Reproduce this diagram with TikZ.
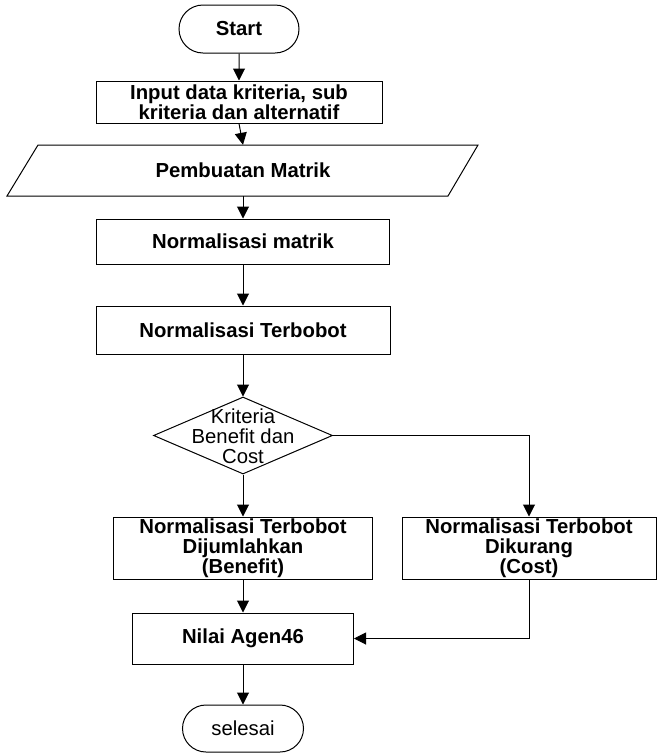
\documentclass[tikz,border=0pt]{standalone}
\usepackage{fontspec}
\setmainfont{Liberation Sans}
\usetikzlibrary{shapes.geometric,shapes.misc,arrows.meta}
\tikzset{
  boxfont/.style={font=\fontsize{20.3pt}{20pt}\selectfont\bfseries},
  plainfont/.style={font=\fontsize{20.3pt}{20pt}\selectfont},
  box/.style={draw, line width=1pt, rectangle, inner sep=0pt, align=center, boxfont},
  term/.style={draw, line width=1pt, rounded rectangle, inner sep=0pt, align=center, plainfont},
  decision/.style={draw, line width=1pt, diamond, inner sep=0pt, minimum width=179pt, minimum height=77pt},
  arr/.style={line width=1pt, -{Triangle[length=12pt,width=12pt]}},
  edge/.style={line width=1pt},
}
\begin{document}
\begin{tikzpicture}[x=1pt,y=-1pt]
\useasboundingbox (0,0) rectangle (657,753);
\node[term, minimum width=120pt, minimum height=48pt, font=\fontsize{20.3pt}{20pt}\selectfont\bfseries] (start) at (239,29) {Start};
\node[box, minimum width=286pt, minimum height=42pt] (input) at (239,102) {Input data kriteria, sub\\kriteria dan alternatif};
\node[inner sep=0pt, minimum width=410pt, minimum height=51pt, boxfont] (para) at (243,170.5) {Pembuatan Matrik};
\draw[edge] (38,145) -- (478,145) -- (448,196) -- (7,196) -- cycle;
\node[box, minimum width=293pt, minimum height=45pt] (matrik) at (243,241.5) {Normalisasi matrik};
\node[box, minimum width=294pt, minimum height=48pt] (terbobot) at (243,330) {Normalisasi Terbobot};
\node[decision] (dec) at (243,435.5) {};
\node[align=center, inner sep=0pt, plainfont] (dectext) at (243,436) {Kriteria\\Benefit dan\\Cost};
\node[box, minimum width=259pt, minimum height=62pt] (benefit) at (243,548) {Normalisasi Terbobot\\Dijumlahkan\\(Benefit)};
\node[box, minimum width=254pt, minimum height=62pt] (cost) at (529,548) {Normalisasi Terbobot\\Dikurang\\(Cost)};
\node[box, minimum width=221pt, minimum height=51pt] (nilai) at (243,638.5) {Nilai Agen46};
\node[term, minimum width=121pt, minimum height=47pt] (selesai) at (243,728.5) {selesai};

\draw[arr] (start) -- (input);
\draw[arr] (input.south) -- (para.north);
\draw[arr] (para.south) -- (matrik.north);
\draw[arr] (matrik) -- (terbobot);
\draw[arr] (terbobot) -- (dec.north);
\draw[arr] (dec.south) -- (benefit.north);
\draw[arr] (dec.east) -| (cost.north);
\draw[arr] (benefit) -- (nilai);
\draw[arr] (cost.south) |- (nilai.east);
\draw[arr] (nilai) -- (selesai);
\end{tikzpicture}
\end{document}
